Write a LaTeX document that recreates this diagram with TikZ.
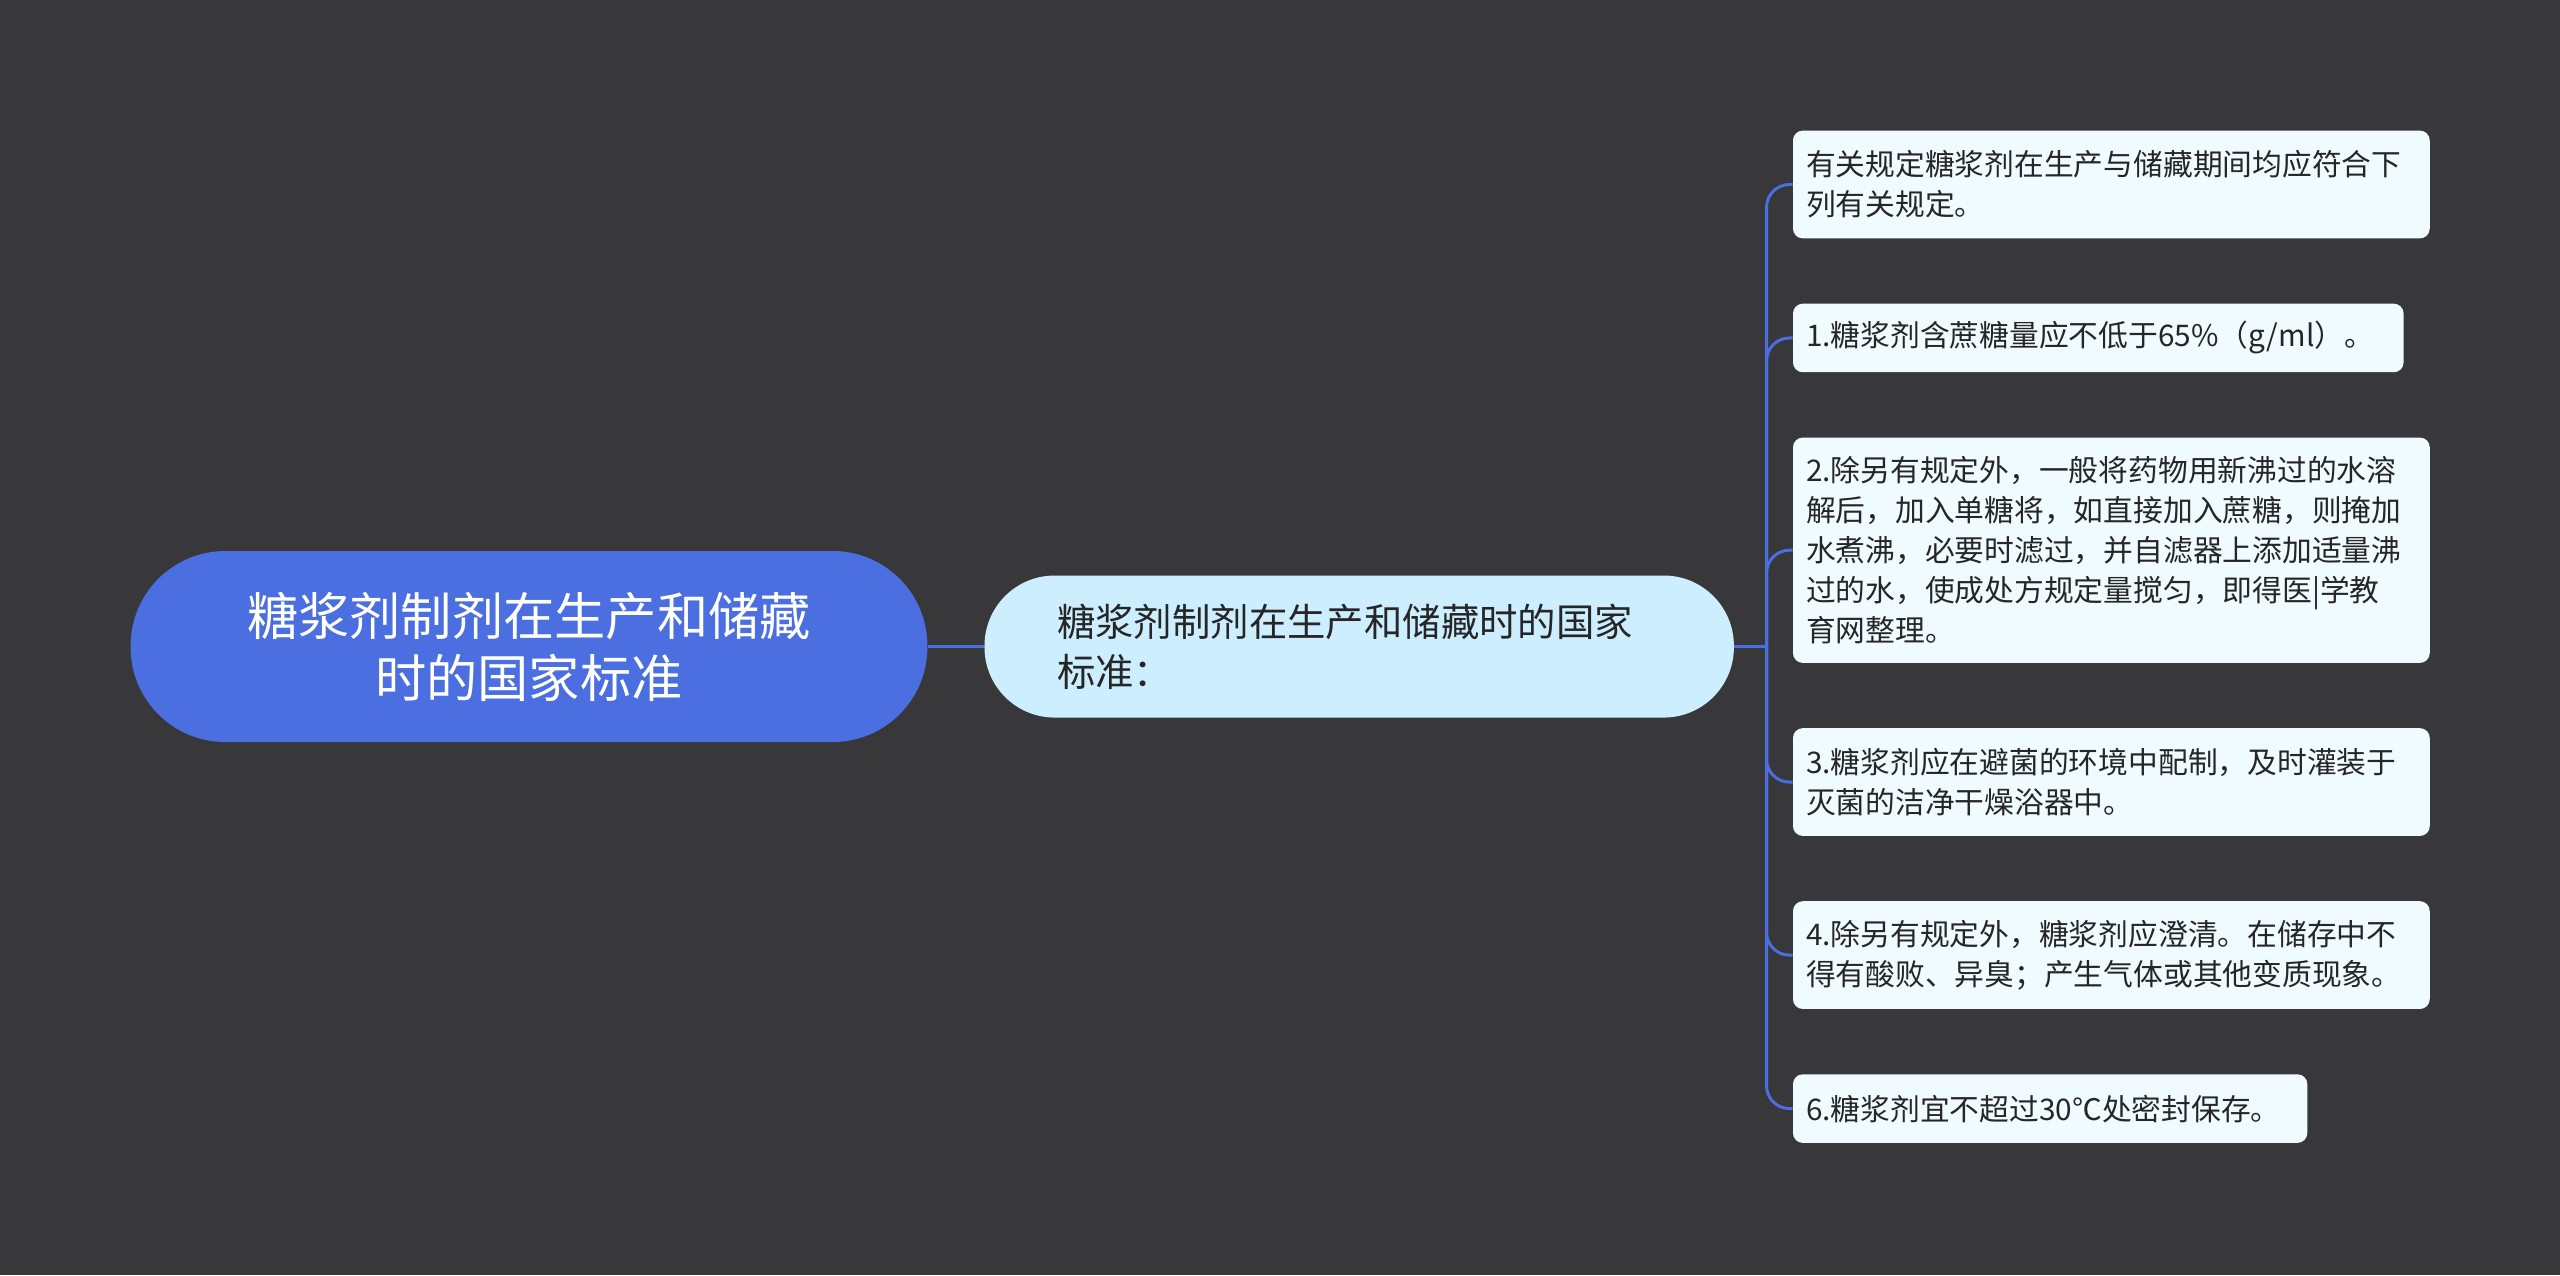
\documentclass[tikz,border=0pt]{standalone}
\usepackage{fontspec}
\setmainfont{Noto Sans CJK SC}
\begin{document}
\begin{tikzpicture}[x=1bp,y=-1bp,
  leaf/.style={draw=none,fill=leafc,rounded corners=6bp,anchor=west,align=left,inner xsep=8bp,inner ysep=6bp,font=\fontsize{18.3}{24.5}\selectfont,text=black!85},
  conn/.style={draw=linec,line width=1.8bp}]
\definecolor{bg}{HTML}{38383A}
\definecolor{rootc}{HTML}{4B6EE0}
\definecolor{midc}{HTML}{CCEEFF}
\definecolor{leafc}{HTML}{F0FBFF}
\definecolor{linec}{HTML}{4B6EE0}
\fill[bg] (0,0) rectangle (1568,781);
\useasboundingbox (0,0) rectangle (1568,781);
\node[fill=rootc,rounded corners=58bp,minimum width=488bp,minimum height=117bp,align=center,text=white,font=\fontsize{31.5}{38}\selectfont] (root) at (324,396) {糖浆剂制剂在生产和储藏\\时的国家标准};
\node[fill=midc,rounded corners=43bp,minimum width=459bp,minimum height=87bp,text width=370bp,align=left,text=black!85,font=\fontsize{23.6}{31}\selectfont] (mid) at (832.5,396) {糖浆剂制剂在生产和储藏时的国家\\标准：};
\node[leaf,text width=374bp,minimum height=66bp] (l1) at (1098,113) {有关规定糖浆剂在生产与储藏期间均应符合下\\列有关规定。};
\node[leaf,text width=358bp,minimum height=42bp] (l2) at (1098,207) {1.糖浆剂含蔗糖量应不低于65\%（g/ml）。};
\node[leaf,text width=374bp,minimum height=138bp] (l3) at (1098,337) {2.除另有规定外，一般将药物用新沸过的水溶\\解后，加入单糖将，如直接加入蔗糖，则掩加\\水煮沸，必要时滤过，并自滤器上添加适量沸\\过的水，使成处方规定量搅匀，即得医|学教\\育网整理。};
\node[leaf,text width=374bp,minimum height=66bp] (l4) at (1098,479) {3.糖浆剂应在避菌的环境中配制，及时灌装于\\灭菌的洁净干燥浴器中。};
\node[leaf,text width=374bp,minimum height=66bp] (l5) at (1098,585) {4.除另有规定外，糖浆剂应澄清。在储存中不\\得有酸败、异臭；产生气体或其他变质现象。};
\node[leaf,text width=299bp,minimum height=42bp] (l6) at (1098,679) {6.糖浆剂宜不超过30℃处密封保存。};
\coordinate (j) at (1082,396);
\draw[conn] (root.east) -- (mid.west);
\draw[conn] (mid.east) -- (j);
\foreach \l in {l1,l2,l3,l4,l5,l6} \draw[conn,rounded corners=14bp] (j) |- (\l.west);
\end{tikzpicture}
\end{document}
